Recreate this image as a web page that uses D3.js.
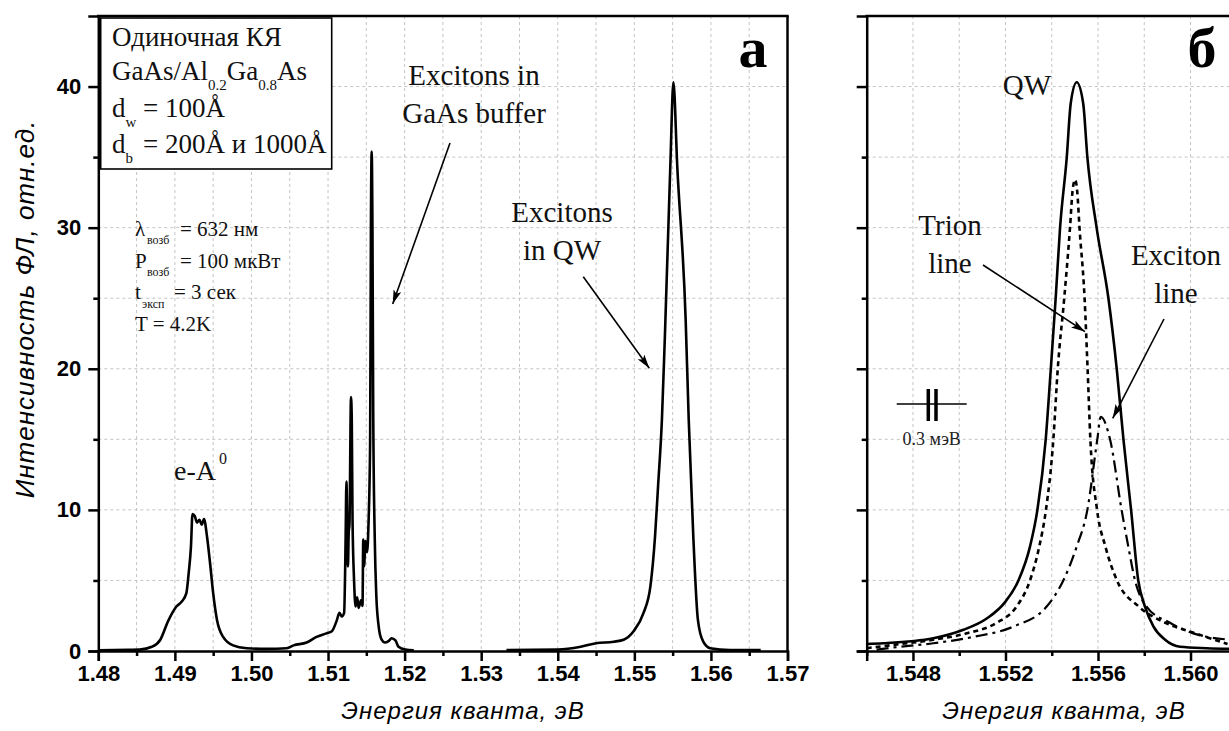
<!DOCTYPE html>
<html><head><meta charset="utf-8">
<script src="https://cdn.jsdelivr.net/npm/d3@7"></script>
<style>body{margin:0;background:#fff}svg{display:block}</style>
</head><body>
<svg id="c" width="1229" height="731"></svg>
<script>
// ---------- DATA ----------
// Panel а: PL spectrum (buffer region) energy [eV] and intensity [a.u.]
const bufferE = [1.4800,1.4840,1.4854,1.4870,1.4881,1.4891,1.4902,1.4909,1.4915,1.4918,1.4921,1.4923,1.4926,1.4929,1.4932,1.4935,1.4938,1.4942,1.4946,1.4950,1.4955,1.4963,1.4976,1.4994,1.5020,1.5046,1.5055,1.5072,1.5085,1.5098,1.5105,1.5111,1.5115,1.5118,1.5121,1.5123,1.5124,1.5126,1.5127,1.5128,1.5130,1.5131,1.5132,1.5134,1.5136,1.5138,1.5140,1.5143,1.5145,1.5146,1.5147,1.5149,1.5151,1.5153,1.5155,1.5156,1.5157,1.5158,1.5159,1.5161,1.5163,1.5166,1.5170,1.5174,1.5179,1.5183,1.5188,1.5192,1.5201,1.5212];
const bufferI = [0.05,0.08,0.1,0.3,0.8,2.1,3.15,3.5,4.1,5.5,7.4,9.7,9.55,9.1,9.3,8.95,9.35,8.1,6.2,4.1,2.2,1.0,0.4,0.2,0.15,0.2,0.4,0.6,1.0,1.25,1.4,2.1,2.7,2.45,2.7,8.1,12.0,6.0,8.4,9.0,18.0,16.4,9.3,5.0,3.15,3.8,3.05,3.6,3.2,7.9,6.0,7.8,7.0,9.3,15,30,35.4,30,17,8,4,1.8,0.8,0.6,0.7,0.9,0.75,0.3,0.1,0.05];
// Panel а: QW exciton peak
const qwE = [1.5333,1.5400,1.5430,1.5450,1.5473,1.5486,1.5499,1.5512,1.5521,1.5527,1.5531,1.5536,1.5540,1.5547,1.5551,1.5556,1.5567,1.5571,1.5577,1.5583,1.5590,1.5599,1.5625,1.5665];
const qwI = [0.07,0.1,0.3,0.55,0.66,0.8,1.4,2.7,4.6,8.1,11.7,16.4,22.5,34.4,40.3,34.4,23.5,16.4,8.1,2.2,0.66,0.2,0.07,0.07];
// Panel б: QW line (solid), trion line (dashed), exciton line (dash-dot)
const totalE = [1.5460,1.54672,1.54888,1.55018,1.55119,1.5520,1.55256,1.55306,1.55338,1.55374,1.55396,1.55417,1.55436,1.55465,1.55482,1.55508,1.55536,1.55554,1.55594,1.55645,1.55681,1.5571,1.55743,1.55774,1.55803,1.5584,1.5589,1.55955,1.5607,1.5620];
const totalI = [0.5,0.55,0.9,1.5,2.3,3.5,5.0,7.4,10,15,20,25,30,35,38.8,40.3,38.8,35,30,25,20,15,10,5.0,3.15,1.73,0.8,0.3,0.2,0.15];
const trionE = [1.5460,1.54715,1.54888,1.55032,1.55162,1.55248,1.55306,1.55346,1.55375,1.55407,1.55426,1.55454,1.55479,1.5549,1.55501,1.5551,1.5552,1.55542,1.55555,1.55567,1.55596,1.55632,1.55682,1.55776,1.55891,1.56021,1.5616];
const trionI = [0.2,0.43,0.8,1.25,2.0,3.15,5,7.4,10,15,20,25,30,32.6,33.4,32.6,30,25,20,15,10,7.4,5,3.15,2.0,1.25,0.5];
const excitonE = [1.54643,1.54744,1.54888,1.55061,1.55234,1.55378,1.5545,1.55508,1.55554,1.55597,1.55612,1.55652,1.55702,1.55731,1.5576,1.5581,1.55911,1.56012,1.5617];
const excitonI = [0.1,0.3,0.55,1.0,1.73,3.15,5,7.4,10,15,16.6,15,10,7.4,5.0,3.15,2.0,1.25,0.8];
// Axis ticks
const ticksA = [1.48,1.49,1.50,1.51,1.52,1.53,1.54,1.55,1.56,1.57];
const minorA = [1.485,1.495,1.505,1.515,1.525,1.535,1.545,1.555,1.565];
const ticksB = [1.548,1.552,1.556,1.560];
const minorB = [1.546,1.550,1.554,1.558,1.562];
const ticksY = [0,10,20,30,40];
const minorY = [5,15,25,35];

// ---------- LAYOUT ----------
const svg = d3.select("#c");
const yTop = 16, yBot = 651;
const y = d3.scaleLinear().domain([0,45]).range([yBot, yTop]);
const xA = d3.scaleLinear().domain([1.48,1.57]).range([98.3,787.5]);
const xB = d3.scaleLinear().domain([1.546,1.562]).range([866.7,866.7+23.13*16]);
const SERIF = "'Liberation Serif','Times New Roman',serif";
const SANS = "'Liberation Sans',Arial,sans-serif";

svg.append("rect").attr("width",1229).attr("height",731).attr("fill","#fff");

const defs = svg.append("defs");
defs.append("clipPath").attr("id","clipB").append("rect")
  .attr("x",866.7).attr("y",yTop).attr("width",1229-866.7).attr("height",yBot-yTop);
defs.append("marker").attr("id","arr").attr("viewBox","0 0 14 8").attr("refX",14).attr("refY",4)
  .attr("markerWidth",14).attr("markerHeight",8).attr("markerUnits","userSpaceOnUse").attr("orient","auto")
  .append("path").attr("d","M0,0 L14,4 L0,8 L3,4 Z").attr("fill","#000");

function grid(g, x, xs, x0, x1) {
  const gc = "#c4c4c4";
  g.selectAll(null).data(xs).join("line")
    .attr("x1",d=>x(d)).attr("x2",d=>x(d)).attr("y1",yTop).attr("y2",yBot)
    .attr("stroke",gc).attr("stroke-width",1).attr("stroke-dasharray","3,3");
  g.selectAll(null).data(ticksY.concat(minorY).filter(v=>v>0)).join("line")
    .attr("x1",x0).attr("x2",x1).attr("y1",d=>y(d)).attr("y2",d=>y(d))
    .attr("stroke",gc).attr("stroke-width",1).attr("stroke-dasharray","3,3");
}

function styleAxis(g){
  g.attr("font-family",SANS).attr("font-size",22).attr("font-weight","bold");
  g.select(".domain").attr("stroke","#000").attr("stroke-width",2.5);
  g.selectAll(".tick line").attr("stroke","#000").attr("stroke-width",2.5);
  g.selectAll(".tick text").style("font-family",SANS).style("font-weight","bold")
    .style("font-size","22px").attr("fill","#000");
}

// ----- Panel а -----
const gA = svg.append("g");
grid(gA, xA, ticksA.concat(minorA).filter(v=>v>1.48 && v<1.57), 98.3, 787.5);

const line = (x)=>d3.line().x(d=>x(d[0])).y(d=>y(d[1])).curve(d3.curveMonotoneX);
gA.append("path").datum(d3.zip(bufferE,bufferI)).attr("d",line(xA))
  .attr("fill","none").attr("stroke","#000").attr("stroke-width",2.6).attr("stroke-linejoin","round");
gA.append("path").datum(d3.zip(qwE,qwI)).attr("d",line(xA))
  .attr("fill","none").attr("stroke","#000").attr("stroke-width",2.6).attr("stroke-linejoin","round");

// axes
gA.append("g").attr("transform",`translate(0,${yBot})`)
  .call(d3.axisBottom(xA).tickValues(ticksA).tickSize(10).tickPadding(4).tickFormat(d3.format(".2f")))
  .call(styleAxis);
gA.append("g").attr("transform",`translate(0,${yBot})`)
  .call(d3.axisBottom(xA).tickValues(minorA).tickSize(5).tickFormat(""))
  .call(styleAxis).select(".domain").remove();
gA.append("g").attr("transform","translate(98.3,0)")
  .call(d3.axisLeft(y).tickValues(ticksY).tickSize(10).tickPadding(7))
  .call(styleAxis);
gA.append("g").attr("transform","translate(98.3,0)")
  .call(d3.axisLeft(y).tickValues(minorY).tickSize(5).tickFormat(""))
  .call(styleAxis).select(".domain").remove();
gA.append("line").attr("x1",97).attr("x2",788.7).attr("y1",yTop).attr("y2",yTop).attr("stroke","#000").attr("stroke-width",2.5);
gA.append("line").attr("x1",787.5).attr("x2",787.5).attr("y1",yTop).attr("y2",yBot).attr("stroke","#000").attr("stroke-width",2.5);

// ----- Panel б -----
const gB = svg.append("g");
grid(gB, xB, ticksB.concat(minorB).filter(v=>v>1.546), 866.7, 1229);
const gBc = gB.append("g").attr("clip-path","url(#clipB)");
gBc.append("path").datum(d3.zip(totalE,totalI)).attr("d",line(xB))
  .attr("fill","none").attr("stroke","#000").attr("stroke-width",2.6);
gBc.append("path").datum(d3.zip(trionE,trionI)).attr("d",line(xB))
  .attr("fill","none").attr("stroke","#000").attr("stroke-width",2.6).attr("stroke-dasharray","5,4");
gBc.append("path").datum(d3.zip(excitonE,excitonI)).attr("d",line(xB))
  .attr("fill","none").attr("stroke","#000").attr("stroke-width",2.2).attr("stroke-dasharray","12,5,3,5");

gB.append("g").attr("transform",`translate(0,${yBot})`)
  .call(d3.axisBottom(xB).tickValues(ticksB).tickSize(10).tickPadding(4).tickFormat(d3.format(".3f")))
  .call(styleAxis);
gB.append("g").attr("transform",`translate(0,${yBot})`)
  .call(d3.axisBottom(xB).tickValues(minorB).tickSize(5).tickFormat(""))
  .call(styleAxis).select(".domain").remove();
gB.append("g").attr("transform","translate(866.7,0)")
  .call(d3.axisLeft(y).tickValues(ticksY).tickSize(10).tickFormat(""))
  .call(styleAxis);
gB.append("g").attr("transform","translate(866.7,0)")
  .call(d3.axisLeft(y).tickValues(minorY).tickSize(5).tickFormat(""))
  .call(styleAxis).select(".domain").remove();
gB.append("line").attr("x1",865.5).attr("x2",1229).attr("y1",yTop).attr("y2",yTop).attr("stroke","#000").attr("stroke-width",2.5);

// ----- Axis titles -----
svg.append("text").attr("x",463).attr("y",719).attr("text-anchor","middle")
  .attr("font-family",SANS).attr("font-style","italic").attr("font-size",24).attr("letter-spacing",1)
  .text("Энергия кванта, эВ");
svg.append("text").attr("x",1064).attr("y",719).attr("text-anchor","middle")
  .attr("font-family",SANS).attr("font-style","italic").attr("font-size",24).attr("letter-spacing",1)
  .text("Энергия кванта, эВ");
svg.append("text").attr("transform","translate(34,309) rotate(-90)").attr("text-anchor","middle")
  .attr("font-family",SANS).attr("font-style","italic").attr("font-size",26).attr("letter-spacing",1)
  .text("Интенсивность ФЛ, отн.ед.");

// ----- Annotations -----
function ser(x, yy, size, anchor){
  return svg.append("text").attr("x",x).attr("y",yy).attr("font-family",SERIF)
    .attr("font-size",size).attr("fill","#111").attr("text-anchor",anchor||"start");
}
// info box
svg.append("rect").attr("x",100.7).attr("y",18).attr("width",231).attr("height",151)
  .attr("fill","#fff").attr("stroke","#000").attr("stroke-width",1.6);
ser(112,46,27).text("Одиночная КЯ");
let t = ser(112,80,27);
t.append("tspan").text("GaAs/Al");
t.append("tspan").attr("font-size",15).attr("dy",10).text("0.2");
t.append("tspan").attr("dy",-10).text("Ga");
t.append("tspan").attr("font-size",15).attr("dy",10).text("0.8");
t.append("tspan").attr("dy",-10).text("As");
t = ser(112,117,27);
t.append("tspan").text("d");
t.append("tspan").attr("font-size",15).attr("dy",10).text("w");
t.append("tspan").attr("x",143).attr("dy",-10).text("= 100Å");
t = ser(112,153,27);
t.append("tspan").text("d");
t.append("tspan").attr("font-size",15).attr("dy",10).text("b");
t.append("tspan").attr("x",143).attr("dy",-10).text("= 200Å и 1000Å");

// experimental conditions
t = ser(135,236,21);
t.append("tspan").text("λ");
t.append("tspan").attr("x",147).attr("font-size",12).attr("dy",8).text("возб");
t.append("tspan").attr("x",180).attr("dy",-8).text("= 632 нм");
t = ser(135,268,21);
t.append("tspan").text("P");
t.append("tspan").attr("x",147).attr("font-size",12).attr("dy",8).text("возб");
t.append("tspan").attr("x",180).attr("dy",-8).text("= 100 мкВт");
t = ser(135,299,21);
t.append("tspan").text("t");
t.append("tspan").attr("x",142).attr("font-size",12).attr("dy",9).text("эксп");
t.append("tspan").attr("x",174).attr("dy",-9).text("= 3 сек");
ser(135,331,21).text("T = 4.2K");

// e-A0
t = ser(174,480,28);
t.append("tspan").text("e-A");
t.append("tspan").attr("font-size",16).attr("dy",-16).attr("dx",3).text("0");

// Excitons in GaAs buffer
ser(474,85,29,"middle").text("Excitons in");
ser(474,123,29,"middle").text("GaAs buffer");
ser(562,222,29,"middle").text("Excitons");
ser(562,260,29,"middle").text("in QW");

function arrow(x1,y1,x2,y2){
  svg.append("line").attr("x1",x1).attr("y1",y1).attr("x2",x2).attr("y2",y2)
    .attr("stroke","#000").attr("stroke-width",1.6).attr("marker-end","url(#arr)");
}
arrow(450,143,392.7,304);
arrow(583.3,276.7,649.3,368.3);

// panel letters
svg.append("text").attr("x",753).attr("y",67).attr("text-anchor","middle").attr("font-family",SERIF)
  .attr("font-weight","bold").attr("font-size",58).text("а");
svg.append("text").attr("x",1202).attr("y",67).attr("text-anchor","middle").attr("font-family",SERIF)
  .attr("font-weight","bold").attr("font-size",58).text("б");

// Panel б labels
ser(1027,95,29,"middle").text("QW");
ser(950,235,29,"middle").text("Trion");
ser(950,273,29,"middle").text("line");
ser(1176,265,29,"middle").text("Exciton");
ser(1176,303,29,"middle").text("line");
arrow(983,265,1085,331.7);
arrow(1164,319,1112.7,418.3);

// resolution mark
svg.append("line").attr("x1",896.7).attr("x2",966.7).attr("y1",404).attr("y2",404).attr("stroke","#000").attr("stroke-width",1.6);
svg.append("line").attr("x1",928.3).attr("x2",928.3).attr("y1",389).attr("y2",421).attr("stroke","#000").attr("stroke-width",3.5);
svg.append("line").attr("x1",936).attr("x2",936).attr("y1",389).attr("y2",421).attr("stroke","#000").attr("stroke-width",3.5);
svg.append("text").attr("x",931.7).attr("y",445).attr("text-anchor","middle").attr("font-family",SERIF)
  .attr("font-size",18).attr("fill","#222").text("0.3 мэВ");
</script>
</body></html>
